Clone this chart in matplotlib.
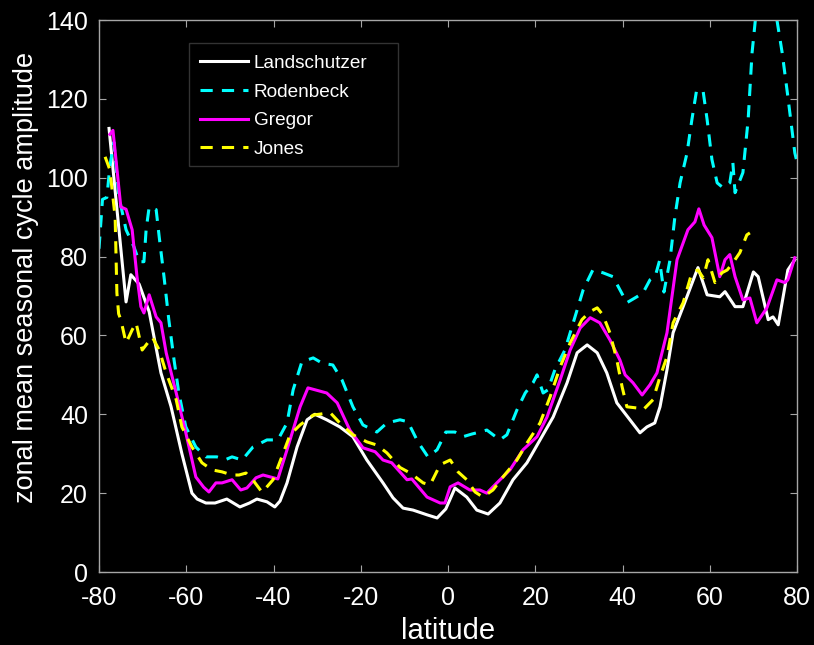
import matplotlib
matplotlib.use('Agg')
import matplotlib.pyplot as plt
from matplotlib.patches import Rectangle

plt.rcParams['font.family'] = ['Liberation Sans', 'DejaVu Sans']
plt.rcParams['axes.unicode_minus'] = False

# Landschutzer (white, solid)
lat_land = [-77.7, -73.8, -72.7, -70.8, -68.5, -65.8, -63.5, -61, -58.7, -57.5,
            -55.5, -53.4, -50.7, -47.7, -45.5, -43.8, -41.5, -39.7, -38.5, -36.9,
            -34.6, -32.3, -30.5, -27.8, -24.8, -21.8, -18.6, -14.9, -12.6, -10.3,
            -8, -4.8, -2.5, -0.5, 1.6, 4.3, 6.6, 9.2, 11.9, 14.9,
            18.1, 21.1, 24.1, 27.3, 29.6, 31.9, 34.2, 36.4, 38.7, 41.7,
            44, 45.6, 47.4, 48.6, 50.2, 51.6, 53.9, 57.3, 59.4, 62.3,
            63.5, 65.8, 67.6, 70, 71.1, 73.4, 74.5, 75.7, 77.9, 79.5]
val_land = [112.5, 68.5, 75.4, 73, 66, 50.5, 42, 30, 20, 18.5,
            17.5, 17.5, 18.5, 16.5, 17.5, 18.5, 17.8, 16.5, 18, 22.6,
            31.7, 38.6, 40, 38.6, 36.8, 34.3, 28.4, 22.6, 18.8, 16.2,
            15.7, 14.5, 13.7, 16, 21.3, 19, 15.7, 14.7, 17.5, 23.4,
            27.7, 33.5, 39.3, 48, 55.6, 57.6, 55.6, 50.5, 42.9, 38.6,
            35.3, 36.8, 37.8, 41.9, 51.3, 60.7, 67.3, 77.2, 70.3, 69.8,
            71.1, 67.3, 67.3, 76.1, 74.9, 64, 64.7, 62.7, 76.6, 79.2]

# Rodenbeck (cyan, dashed)
lat_rod = [-80, -79.2, -78.2, -77.5, -76.6, -75.4, -73.8, -72, -70.8, -69.7,
           -69.2, -68.5, -66.9, -66.2, -65.1, -64, -62.8, -61.7, -60.1, -57.8,
           -55.5, -53, -51, -49.5, -47.2, -44.7, -41.5, -39, -36.9, -35.5,
           -33.5, -30.9, -28.9, -26.4, -24.3, -21.8, -19.5, -16.3, -14, -11,
           -9.2, -6.9, -4.6, -2.5, -0.5, 1.6, 3.4, 5.5, 7.3, 8.9,
           11.9, 13.5, 15.8, 17.7, 19.5, 20.4, 21.8, 22.9, 24.5, 26.8,
           28.7, 31, 33.2, 35.5, 37.8, 39.4, 41, 43.3, 44.7, 46.3,
           47.5, 48.5, 49.5, 50.9, 52, 53.2, 54.8, 55.9, 57, 58.5,
           59.4, 60.5, 61.7, 63, 64.6, 65.3, 65.8, 67.6, 68.8, 69.7,
           71, 72.5, 74, 75.4, 76.6, 77.9, 79.5, 80]
val_rod = [82, 94.5, 95, 103, 109, 95, 86.8, 82.5, 78.7, 78.7,
           86.8, 92.6, 91.9, 85, 74.9, 64, 53.8, 45.4, 36.8, 31.7,
           29.2, 29.2, 28.5, 29.2, 28.4, 31.7, 33.5, 33.5, 37.8, 46.2,
           53.3, 54.3, 53, 52.5, 48.7, 41.9, 37.3, 35.5, 37.8, 38.6,
           38.1, 33, 29.2, 31, 35.5, 35.5, 34.3, 35, 35.5, 36,
           33.5, 34.8, 41.1, 45.4, 48, 50, 45.4, 46.2, 51.3, 56.3,
           63.2, 71.6, 76.6, 75.9, 74.9, 71.6, 68.3, 69.8, 70.8, 74.1,
           75, 79, 71, 79.2, 90, 98.7, 106.3, 114.7, 122.3, 121.8,
           114.7, 104.6, 98.7, 97.5, 98.7, 103.8, 96.2, 101.3, 114.7, 131.7,
           146, 151, 147, 140, 131.7, 120.6, 106.3, 104]

# Gregor (magenta, solid)
lat_greg = [-77.5, -76.8, -75, -73.8, -72.4, -71.3, -70.4, -69.7, -68.5, -66.9,
            -65.8, -64.6, -62.3, -60.1, -57.8, -56, -54.8, -53.2, -51.8, -49.5,
            -47.5, -46.1, -44, -42.4, -39, -36.9, -33.9, -32.1, -27.8, -25.4,
            -22.5, -19.5, -16.7, -14.9, -12.9, -9.4, -8.3, -4.8, -1.8, -0.7,
            0.5, 2.3, 5, 7.3, 8.9, 11.2, 14.2, 17.2, 20.4, 22.7,
            25.7, 28, 30.3, 32.6, 34.8, 37.1, 39.4, 40.6, 42.4, 44.5,
            46.3, 47.9, 50.2, 52.5, 55, 56.6, 57.5, 58.7, 60.5, 62.3,
            63.5, 64.6, 65.8, 67.6, 69.2, 70.8, 73.1, 75.4, 77.2, 77.9, 79.5]
val_greg = [111, 112, 92.6, 92, 86.8, 75, 67.3, 65.7, 70.3, 64.7,
            63.2, 55.6, 45.4, 35.3, 24.1, 21.5, 20.3, 22.6, 22.6, 23.4,
            20.8, 21.3, 23.9, 24.6, 23.6, 31, 41.9, 46.7, 45.4, 42.9,
            36, 31.5, 30.5, 28.4, 27.7, 23.4, 23.6, 19, 17.5, 17.5,
            21.6, 22.6, 20.8, 20.8, 20, 22.6, 25.9, 31, 34.3, 39.3,
            48.7, 56.3, 61.9, 64.5, 63.2, 58.9, 53.8, 50, 48, 44.9,
            47.5, 50.5, 60.7, 79.2, 86.8, 88.8, 92.1, 88, 84.8, 74.9,
            79.2, 80.5, 74.9, 69, 69.5, 63.2, 67, 74.1, 73.4, 74.1, 79.7]

# Jones (yellow, dashed)
lat_jones = [-78.6, -77.5, -76.3, -75.9, -75.5, -75, -73.8, -72.4, -71.5, -70.1,
             -67.8, -66.2, -64.6, -62.3, -61, -58.7, -56.4, -54.1, -51.8, -49.5,
             -47.9, -46.3, -44.5, -42.6, -40.1, -38.1, -36.2, -33.9, -30.9, -27,
             -24.8, -21.8, -18.6, -16.3, -14, -11, -8.5, -5.7, -4.1, -1.8,
             0.5, 2.3, 4.3, 6.2, 8, 10.3, 12.6, 15.8, 18.1, 21.1,
             23.4, 25.7, 28, 30.7, 32.5, 34.2, 35.5, 37.1, 38.7, 39.9,
             41, 43.3, 44.7, 47, 48.6, 50.2, 51.6, 53.9, 55.9, 57.3,
             58.5, 59.6, 61.2, 62.8, 64, 65.3, 66.9, 68.5, 69.2]
val_jones = [105.3, 102, 90, 70.8, 65.5, 64, 58.1, 61.4, 63.2, 56.3,
             59.6, 56.3, 50.5, 43.7, 36.8, 31.7, 27.7, 25.9, 25.4, 24.6,
             24.6, 25.1, 23, 20.2, 23.4, 29.2, 34.8, 37.3, 39.8, 40.4,
             37.8, 34.8, 33, 32.2, 30.2, 26.5, 25, 22.6, 22.1, 27.2,
             28.4, 25.4, 23.4, 20.3, 19, 20.8, 24.1, 28.4, 32.7, 37.8,
             44.4, 52, 58.1, 64, 66, 67, 65.2, 60.7, 53.8, 47,
             41.9, 41.6, 41.1, 43.7, 49.5, 54.6, 63.2, 68.3, 75.9, 76.6,
             74.6, 79.2, 73.4, 75.9, 76.6, 78.4, 81, 85.5, 86]

fig = plt.figure(figsize=(8.14, 6.45), dpi=100, facecolor='black')
ax = fig.add_axes([99 / 814, 73 / 645, 698 / 814, 552 / 645])
ax.set_facecolor('black')

lw = 2.2
ax.plot(lat_land, val_land, color='white', lw=lw, label='Landschutzer')
ax.plot(lat_rod, val_rod, color='#00ffff', lw=lw, dashes=(4, 3),
        dash_capstyle='butt', label='Rodenbeck')
ax.plot(lat_greg, val_greg, color='#ff00ff', lw=lw, label='Gregor')
ax.plot(lat_jones, val_jones, color='#ffff00', lw=lw, dashes=(4, 3),
        dash_capstyle='butt', label='Jones')

ax.set_xlim(-80, 80)
ax.set_ylim(0, 140)
ax.set_xticks(range(-80, 81, 20))
ax.set_yticks(range(0, 141, 20))

for s in ax.spines.values():
    s.set_color('#a6a6a6')
    s.set_linewidth(1.0)
ax.tick_params(direction='in', length=5, width=0.8, color='#a6a6a6',
               labelcolor='white', labelsize=18, top=True, right=True)
ax.tick_params(axis='x', pad=10)
ax.tick_params(axis='y', pad=8)

ax.set_xlabel('latitude', color='white', fontsize=21, labelpad=5)
ax.set_ylabel('zonal mean seasonal cycle amplitude', color='white',
              fontsize=19.5)
ax.yaxis.set_label_coords(-0.086, 0.5335)

# legend box, drawn separately so it can be wider than the entries
ax.add_patch(Rectangle((0.129, 0.7355), 0.2995, 0.2228, transform=ax.transAxes,
                       facecolor='black', edgecolor='#333333', lw=1.0, zorder=4))
leg = ax.legend(loc='upper left', bbox_to_anchor=(0.129, 0.958),
                borderaxespad=0, fontsize=13.7, frameon=False,
                labelcolor='white', handlelength=2.5, handletextpad=0.3,
                labelspacing=0.6, borderpad=0.6)
leg.set_zorder(5)

fig.savefig('out.png', dpi=100, facecolor='black')
